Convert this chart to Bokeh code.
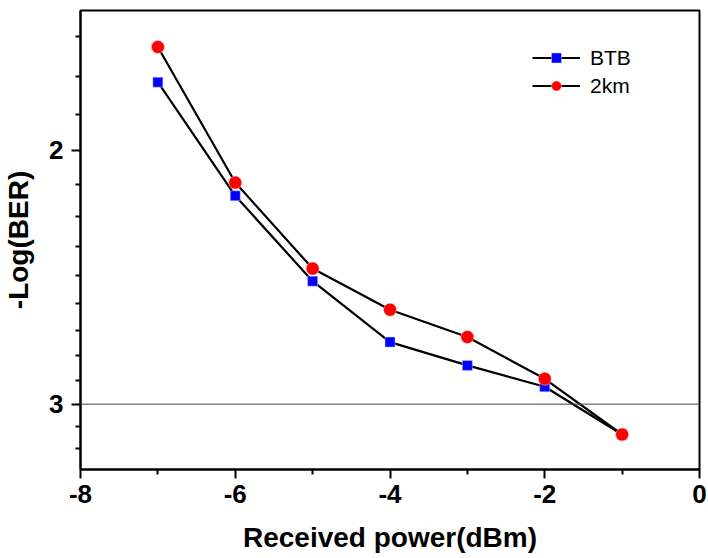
from bokeh.plotting import figure
from bokeh.models import Range1d, FixedTicker, Span, Legend, LegendItem, CustomJSTickFormatter
from bokeh.embed import file_html
from bokeh.resources import INLINE

# Data
power = [-7, -6, -5, -4, -3, -2, -1]
btb = [1.794, 2.151, 2.465, 2.717, 2.820, 2.918, 3.149]
km2 = [1.696, 2.106, 2.416, 2.580, 2.695, 2.881, 3.149]

x_major = [-8, -6, -4, -2, 0]
x_minor = [-7, -5, -3, -1]
y_major = [2, 3]
y_minor = [1 + k / 9 for k in range(6, 9)] + [2 + k / 9 for k in range(1, 9)] + [3 + k / 9 for k in range(1, 3)]

FONT = "Liberation Sans"

p = figure(frame_width=619, frame_height=459, width=708, height=558,
           output_backend="svg", toolbar_location=None,
           y_axis_type="log",
           x_range=Range1d(-8, 0), y_range=Range1d(3.33, 1.60),
           min_border_left=78, min_border_right=11, min_border_top=10, min_border_bottom=89)

p.grid.visible = False
p.outline_line_color = "black"
p.outline_line_width = 2
p.background_fill_color = "white"
p.border_fill_color = "white"

fmt = CustomJSTickFormatter(code="return String(Math.round(tick));")
p.xaxis.ticker = FixedTicker(ticks=x_major, minor_ticks=x_minor)
p.yaxis.ticker = FixedTicker(ticks=y_major, minor_ticks=y_minor)
p.xaxis.formatter = fmt
p.yaxis.formatter = CustomJSTickFormatter(code="return String(Math.round(tick));")

for ax in (p.xaxis[0], p.yaxis[0]):
    ax.axis_line_width = 2
    ax.major_tick_line_width = 2
    ax.minor_tick_line_width = 2
    ax.major_tick_out = 9
    ax.major_tick_in = 0
    ax.minor_tick_out = 5
    ax.minor_tick_in = 0
    ax.major_label_text_font = FONT
    ax.major_label_text_font_style = "bold"
    ax.major_label_text_font_size = "26px"
    ax.major_label_text_color = "black"
    ax.axis_label_text_font = FONT
    ax.axis_label_text_font_style = "bold"
    ax.axis_label_text_font_size = "28px"
    ax.axis_label_text_color = "black"

p.xaxis.axis_label = "Received power(dBm)"
p.yaxis.axis_label = "-Log(BER)"
p.xaxis.major_label_standoff = 6
p.xaxis.axis_label_standoff = 16
p.yaxis.major_label_standoff = 8
p.yaxis.axis_label_standoff = 12

p.add_layout(Span(location=3, dimension="width", line_color="#444444", line_width=1))

l1 = p.line(power, btb, line_color="black", line_width=2.2)
m1 = p.scatter(power, btb, marker="square", size=10, fill_color="#0000FF",
               line_color="#ccccff", line_width=0.5)
l2 = p.line(power, km2, line_color="black", line_width=2.2)
m2 = p.scatter(power, km2, marker="circle", size=13, fill_color="#FF0000",
               line_color="#ffcccc", line_width=0.5)

legend = Legend(items=[LegendItem(label="BTB", renderers=[l1, m1]),
                       LegendItem(label="2km", renderers=[l2, m2])],
                location=(452, 371), border_line_color=None,
                background_fill_alpha=0, padding=5, spacing=3,
                glyph_width=48, glyph_height=25, label_height=25,
                label_standoff=10, label_text_font=FONT,
                label_text_color="black",
                label_text_font_size="21px")
p.add_layout(legend)

open("out.html", "w").write(file_html(p, INLINE))
